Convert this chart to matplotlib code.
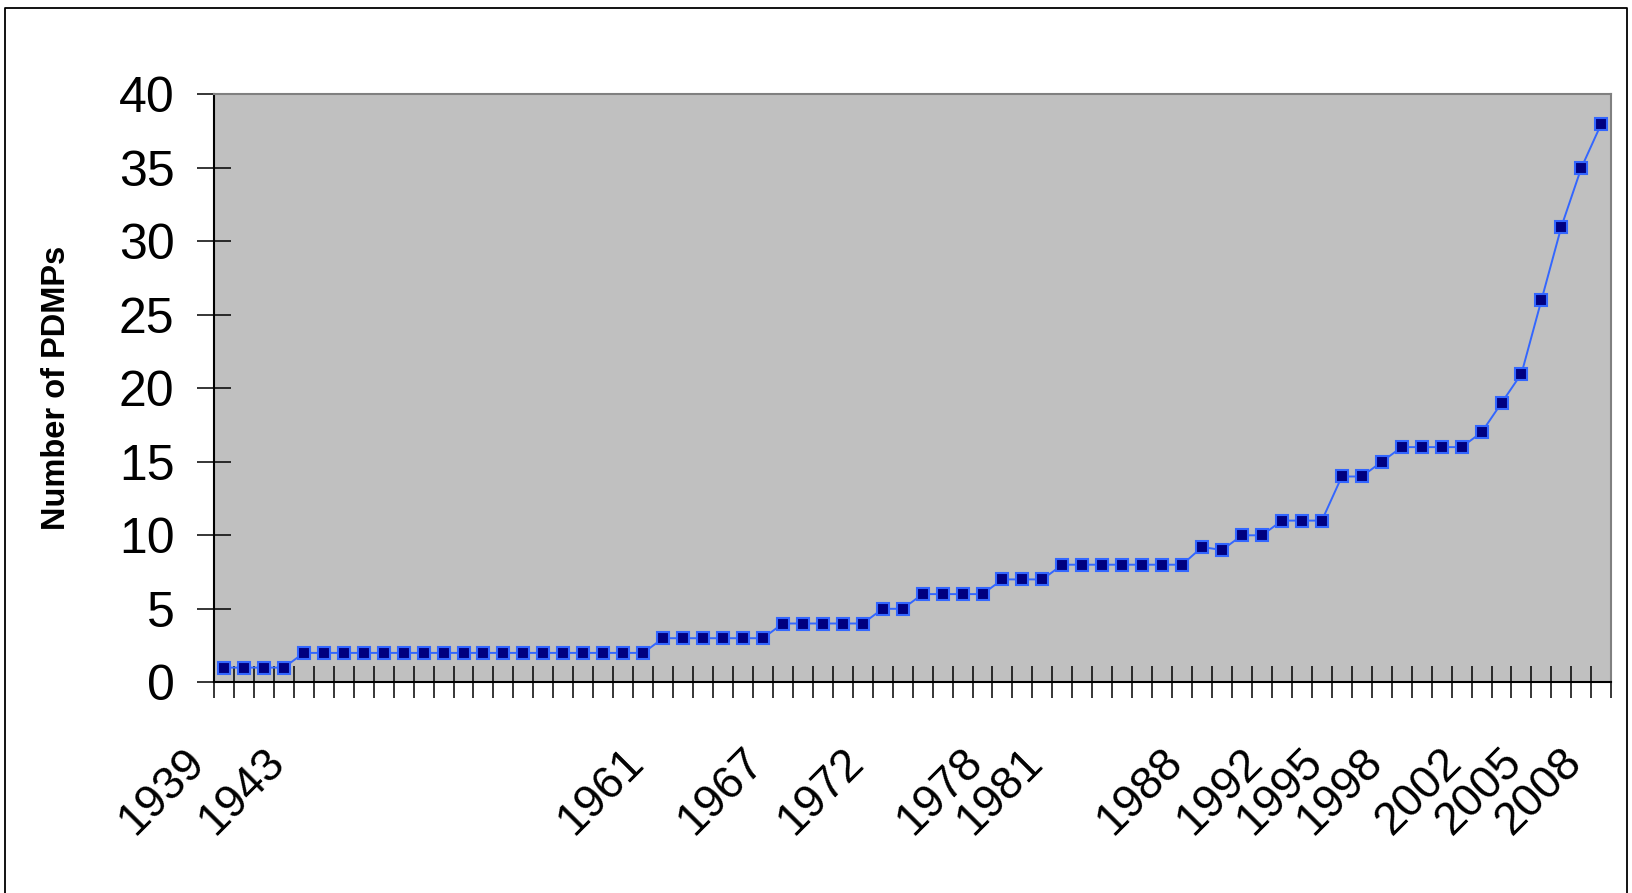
import numpy as np
import matplotlib
matplotlib.use("Agg")
import matplotlib.pyplot as plt
from matplotlib.lines import Line2D
from matplotlib.transforms import ScaledTranslation

# data: cumulative number of PDMPs per year
years = np.arange(1939, 2009)
counts = [1, 1, 1, 1,
          2, 2, 2, 2, 2, 2, 2, 2, 2, 2, 2, 2, 2, 2, 2, 2, 2, 2,
          3, 3, 3, 3, 3, 3,
          4, 4, 4, 4, 4,
          5, 5,
          6, 6, 6, 6,
          7, 7, 7,
          8, 8, 8, 8, 8, 8, 8,
          9.2, 9,
          10, 10,
          11, 11, 11,
          14, 14,
          15,
          16, 16, 16, 16,
          17, 19, 21, 26, 31, 35, 38]
label_years = [1939, 1943, 1961, 1967, 1972, 1978, 1981, 1988,
               1992, 1995, 1998, 2002, 2005, 2008]

plt.rcParams['font.family'] = ['Liberation Sans', 'DejaVu Sans']

W, H = 1633, 893
fig = plt.figure(figsize=(W / 100, H / 100), dpi=100)
ax = fig.add_axes([214 / W, 1 - 682.3 / H, (1611.3 - 214) / W, (682.3 - 94.3) / H])
ax.set_facecolor('#C0C0C0')

x = np.arange(len(years))
ax.plot(x, counts, color='#3366FF', linewidth=1.4, marker='s', markersize=8.5,
        markerfacecolor='#000080', markeredgecolor='#3366FF', markeredgewidth=1.5,
        clip_on=False, zorder=3)

ax.set_xlim(-0.5, len(years) - 0.5)
ax.set_ylim(0, 40)

# y axis
ax.set_yticks(np.arange(0, 41, 5))
ax.tick_params(axis='y', direction='inout', length=25, width=1.1, colors='black',
               labelsize=36, pad=16)

# x axis: ticks between categories, labels only for some years
ax.set_xticks(np.arange(-0.5, len(years), 1.0))
ax.set_xticklabels([])
ax.tick_params(axis='x', which='major', direction='inout', length=23, width=1.1,
               colors='black')
label_pos = [int(np.where(years == y)[0][0]) for y in label_years]
ax.set_xticks(label_pos, minor=True)
ax.set_xticklabels([str(y) for y in label_years], minor=True, rotation=45,
                   ha='right', va='center', rotation_mode='anchor', fontsize=33)
ax.tick_params(axis='x', which='minor', length=0, pad=53)

for s in ['top', 'right']:
    ax.spines[s].set_color('#808080')
    ax.spines[s].set_linewidth(1.5)
for s in ['left', 'bottom']:
    ax.spines[s].set_color('black')
    ax.spines[s].set_linewidth(1.5)

ax.text(-0.1125, 0.5, 'Number of PDMPs', transform=ax.transAxes, rotation=90,
        ha='center', va='center', fontsize=23.5, fontweight='bold')

# shift rotated labels left like the spreadsheet layout
off = ScaledTranslation(-26 / 100, 0, fig.dpi_scale_trans)
for lab in ax.get_xticklabels(minor=True):
    lab.set_transform(lab.get_transform() + off)

# outer chart border (left, top, right)
xl, xr, yt = 5.5 / W, 1627.5 / W, 1 - 8 / H
fig.add_artist(Line2D([xl, xl, xr, xr], [0, yt, yt, 0], color='black',
                      linewidth=1.3, transform=fig.transFigure))

fig.savefig('out.png', dpi=100)
